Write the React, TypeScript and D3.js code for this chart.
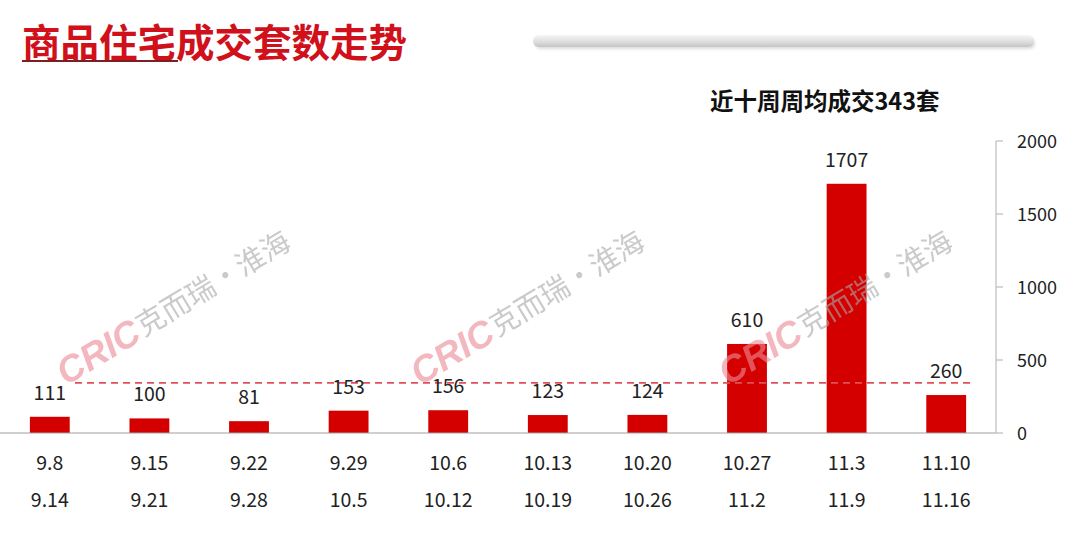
import React from "react";
import * as d3 from "d3";

const startDates = ["9.8", "9.15", "9.22", "9.29", "10.6", "10.13", "10.20", "10.27", "11.3", "11.10"];
const endDates = ["9.14", "9.21", "9.28", "10.5", "10.12", "10.19", "10.26", "11.2", "11.9", "11.16"];
const values = [111, 100, 81, 153, 156, 123, 124, 610, 1707, 260];
const yTicks = [0, 500, 1000, 1500, 2000];
const average = 343;
const title = "商品住宅成交套数走势";
const subtitle = "近十周周均成交343套";
const watermarkX = [66, 420, 728];

const W = 1076;
const H = 534;
const plotLeft = 0;
const plotRight = 996;
const plotTop = 141;
const plotBottom = 433;
const font = "'Noto Sans CJK SC', 'Noto Sans', sans-serif";

export default function App() {
  const x = d3
    .scaleBand<number>()
    .domain(d3.range(values.length))
    .range([plotLeft, plotRight])
    .paddingInner(0.6)
    .paddingOuter(0.3);
  const y = d3.scaleLinear().domain([0, 2000]).range([plotBottom, plotTop]);
  const bw = x.bandwidth();

  return (
    <svg
      width={W}
      height={H}
      style={{ position: "absolute", left: 0, top: 0, background: "#fff" }}
      fontFamily={font}
    >
      <defs>
        <linearGradient id="barGrad" x1="0" y1="0" x2="0" y2="1">
          <stop offset="0" stopColor="#f6f6f6" />
          <stop offset="0.6" stopColor="#dcdcdc" />
          <stop offset="1" stopColor="#c4c4c4" />
        </linearGradient>
        <filter id="sh" x="-5%" y="-100%" width="110%" height="300%">
          <feGaussianBlur stdDeviation="1.5" />
        </filter>
      </defs>

      {/* Title */}
      <text x={22} y={57} fontSize={38.5} fontWeight={700} fill="#d0101a">
        {title}
      </text>
      <line x1={22} x2={178} y1={61} y2={61} stroke="#7a2020" strokeWidth={2} />
      <rect x={535} y={38} width={500} height={11} rx={5.5} fill="#bbb" opacity={0.5} filter="url(#sh)" />
      <rect x={533} y={35} width={501} height={12} rx={6} fill="url(#barGrad)" />

      {/* Subtitle */}
      <text x={710} y={110} fontSize={23.5} fontWeight={700} fill="#111">
        {subtitle}
      </text>

      {/* Bars */}
      {values.map((v, i) => (
        <rect key={i} x={x(i)} y={y(v)} width={bw} height={plotBottom - y(v)} fill="#d40000" />
      ))}

      {/* Watermarks (drawn over the bars) */}
      {watermarkX.map((wx, k) => (
        <g key={k} transform={`translate(${wx},${386}) rotate(-31)`} opacity={0.6}>
          <text x={0} y={0} fontSize={37} fontWeight={900} fontStyle="italic" fill="#ec8a96" fontFamily="'Liberation Sans', sans-serif">
            CRIC
          </text>
          <text x={92} y={-2} fontSize={29} fill="#a8a8a8">
            克而瑞·淮海
          </text>
        </g>
      ))}

      {/* Average dashed line */}
      <line
        x1={75}
        x2={975}
        y1={y(average)}
        y2={y(average)}
        stroke="#e0505a"
        strokeWidth={1.6}
        strokeDasharray="7 5"
      />

      {/* Value labels */}
      {values.map((v, i) => (
        <text
          key={i}
          x={(x(i) as number) + bw / 2}
          y={y(v) - 17}
          fontSize={19.5}
          textAnchor="middle"
          fill="#222"
        >
          {v}
        </text>
      ))}

      {/* Baseline */}
      <line x1={0} x2={plotRight} y1={plotBottom} y2={plotBottom} stroke="#a0a0a0" strokeWidth={1.2} />

      {/* Y axis */}
      <line x1={plotRight} x2={plotRight} y1={plotTop} y2={plotBottom} stroke="#bdbdbd" strokeWidth={1.2} />
      {yTicks.map((t) => (
        <g key={t}>
          <line x1={plotRight} x2={plotRight + 7} y1={y(t)} y2={y(t)} stroke="#bdbdbd" strokeWidth={1.2} />
          <text x={1017} y={y(t) + 6.5} fontSize={18} fill="#222">
            {t}
          </text>
        </g>
      ))}

      {/* X labels */}
      {startDates.map((s, i) => (
        <g key={i}>
          <text x={(x(i) as number) + bw / 2} y={470} fontSize={19.5} textAnchor="middle" fill="#222">
            {s}
          </text>
          <text x={(x(i) as number) + bw / 2} y={507} fontSize={19.5} textAnchor="middle" fill="#222">
            {endDates[i]}
          </text>
        </g>
      ))}
    </svg>
  );
}
